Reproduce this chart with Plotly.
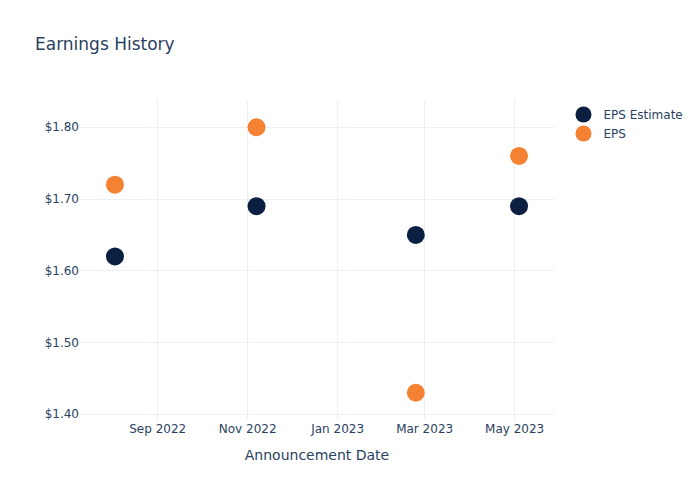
import plotly.graph_objects as go

dates = ["2022-08-03", "2022-11-07", "2023-02-23", "2023-05-04"]
eps_estimate = [1.62, 1.69, 1.65, 1.69]
eps_actual = [1.72, 1.80, 1.43, 1.76]

fig = go.Figure()
fig.add_trace(go.Scatter(x=dates, y=eps_estimate, mode="markers", name="EPS Estimate",
                         marker=dict(color="#0b1f41", size=18)))
fig.add_trace(go.Scatter(x=dates, y=eps_actual, mode="markers", name="EPS",
                         marker=dict(color="#f58233", size=18)))
fig.update_layout(
    template="plotly_white",
    font=dict(family="DejaVu Sans"),
    title=dict(text="Earnings History"),
    xaxis=dict(title="Announcement Date"),
    yaxis=dict(tickprefix="$", tickformat=".2f", dtick=0.1),
    width=700, height=500,
)
fig.write_html("out.html")
